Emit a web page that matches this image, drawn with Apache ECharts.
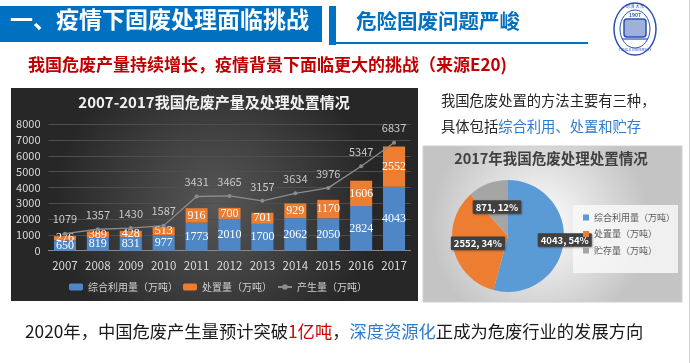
<!DOCTYPE html>
<html><head><meta charset="utf-8">
<script src="https://cdn.jsdelivr.net/npm/echarts@6/dist/echarts.min.js"></script>
<style>html,body{margin:0;padding:0;background:#fff}#c{width:692px;height:363px}</style>
</head><body><div id="c"></div>
<script>
const years = ['2007','2008','2009','2010','2011','2012','2013','2014','2015','2016','2017'];
const utilization = [650,819,831,977,1773,2010,1700,2062,2050,2824,4043];
const disposal = [276,389,428,513,916,700,701,929,1170,1606,2552];
const generation = [1079,1357,1430,1587,3431,3465,3157,3634,3976,5347,6837];
const barSeriesNames = ['综合利用量（万吨）','处置量（万吨）','产生量（万吨）'];
const pieNames = ['综合利用量（万吨）','处置量（万吨）','贮存量（万吨）'];
const pieValues = [4043,2552,871];
const yMin = 0, yMax = 8000, yStep = 1000;

const F = '"Noto Sans CJK SC","Noto Sans",sans-serif';
const chart = echarts.init(document.getElementById('c'));
const PIE_PREFIX = 'p:';

const pieData = pieNames.map((n, i) => ({ name: PIE_PREFIX + n, value: pieValues[i] }));
// the large (>180°) slice label sits at half radius along its bisector, as in the original
pieData[0].label = { offset: [26, 0] };

const option = {
  animation: false,
  textStyle: { fontFamily: F },
  graphic: [
    { type: 'line', shape: { x1: 689.5, y1: 0, x2: 689.5, y2: 363 }, style: { stroke: '#d4d4d4', lineWidth: 1 }, z: 0 },
    // header
    { type: 'rect', shape: { x: 0, y: 6, width: 322, height: 36 }, style: { fill: '#0070c0' }, z: 0 },
    { type: 'text', left: 10, top: 8, style: { text: '一、疫情下固废处理面临挑战', fill: '#fff', font: 'bold 23px ' + F }, z: 1 },
    { type: 'rect', shape: { x: 329, y: 6, width: 7, height: 39 }, style: { fill: '#0070c0' }, z: 0 },
    { type: 'rect', shape: { x: 336, y: 42, width: 252, height: 2 }, style: { fill: '#0070c0' }, z: 0 },
    { type: 'text', left: 356, top: 11, style: { text: '危险固废问题严峻', fill: '#0070c0', font: 'bold 20.5px ' + F }, z: 1 },
    // logo
    { type: 'ellipse', shape: { cx: 635, cy: 29, rx: 21, ry: 26 }, style: { fill: 'none', stroke: '#2a4fb0', lineWidth: 1.5 }, z: 1 },
    { type: 'ellipse', shape: { cx: 635, cy: 29, rx: 15, ry: 19 }, style: { fill: 'none', stroke: '#2a4fb0', lineWidth: 1 }, z: 1 },
    { type: 'text', x: 635, y: 6.5, style: { text: '同 濟 大 學', fill: '#2a4fb0', font: '4px ' + F, align: 'center', verticalAlign: 'middle' }, z: 1 },
    { type: 'text', x: 635, y: 15, style: { text: '1907', fill: '#2a4fb0', font: 'bold 5px ' + F, align: 'center', verticalAlign: 'middle' }, z: 1 },
    { type: 'rect', shape: { x: 624, y: 19, width: 22, height: 18, r: 3 }, style: { fill: 'rgba(42,79,176,0.45)', stroke: '#2a4fb0', lineWidth: 1.5 }, z: 1 },
    { type: 'line', shape: { x1: 622, y1: 39, x2: 648, y2: 39 }, style: { stroke: '#2a4fb0', lineWidth: 1.2 }, z: 1 },
    { type: 'text', x: 635, y: 50, style: { text: 'TONGJI UNIVERSITY', fill: '#2a4fb0', font: '3.5px ' + F, align: 'center', verticalAlign: 'middle' }, z: 1 },
    // red subtitle
    { type: 'text', left: 28, top: 56, style: { text: '我国危废产量持续增长，疫情背景下面临更大的挑战（来源E20)', fill: '#c00000', font: 'bold 17px ' + F }, z: 1 },
    // left chart bg
    { type: 'rect', shape: { x: 11, y: 88, width: 407, height: 213 },
      style: { fill: { type: 'radial', x: 0.5, y: 0.55, r: 0.75, colorStops: [{ offset: 0, color: '#575757' }, { offset: 1, color: '#272727' }] } }, z: 0 },
    { type: 'text', x: 214, y: 102, style: { text: '2007-2017我国危废产量及处理处置情况', fill: '#f2f2f2', font: 'bold 15px ' + F, align: 'center', verticalAlign: 'middle' }, z: 1 },
    // right texts
    { type: 'text', left: 441, top: 93, style: { text: '我国危废处置的方法主要有三种，', fill: '#262626', font: '14.3px ' + F }, z: 1 },
    { type: 'text', left: 441, top: 119, style: { text: '{k|具体包括}{b|综合利用、处置和贮存}', rich: { k: { fill: '#262626', font: '14.3px ' + F }, b: { fill: '#2e7bcf', font: '14.3px ' + F } } }, z: 1 },
    // pie box
    { type: 'rect', shape: { x: 423, y: 146, width: 259, height: 156 },
      style: { fill: { type: 'radial', x: 0.45, y: 0.5, r: 0.7, colorStops: [{ offset: 0, color: '#ffffff' }, { offset: 1, color: '#c4c4c4' }] }, stroke: '#d0d0d0', lineWidth: 1 }, z: 0 },
    { type: 'text', x: 551, y: 158, style: { text: '2017年我国危废处理处置情况', fill: '#404040', font: 'bold 14.5px ' + F, align: 'center', verticalAlign: 'middle' }, z: 1 },
    { type: 'rect', shape: { x: 573, y: 205, width: 105, height: 68 }, style: { fill: 'rgba(248,248,248,0.85)' }, z: 1 },
    // bottom text
    { type: 'text', left: 25, top: 323, style: { text: '{k|2020年，中国危废产生量预计突破}{r|1亿吨}{k|，}{b|深度资源化}{k|正成为危废行业的发展方向}',
      rich: { k: { fill: '#1a1a1a', font: '17.3px ' + F }, r: { fill: '#d00000', font: '17.3px ' + F }, b: { fill: '#2e7bcf', font: '17.3px ' + F } } }, z: 1 }
  ],
  legend: [
    { data: barSeriesNames, left: 69, top: 282, padding: 0, itemGap: 5, itemWidth: 14, itemHeight: 7,
      textStyle: { color: '#d0d0d0', fontSize: 10, fontFamily: F } },
    { data: pieNames.map(n => PIE_PREFIX + n), formatter: n => n.slice(PIE_PREFIX.length), orient: 'vertical', left: 583, top: 213, padding: 0,
      itemGap: 7.5, itemWidth: 6, itemHeight: 6, icon: 'rect', textStyle: { color: '#595959', fontSize: 9, fontFamily: F } }
  ],
  grid: { left: 48.5, right: 281.5, top: 124.3, bottom: 112.3, containLabel: false },
  xAxis: { type: 'category', data: years, axisTick: { show: false },
    axisLine: { lineStyle: { color: '#8a8a8a' } },
    axisLabel: { color: '#d9d9d9', fontSize: 11.5, margin: 9, interval: 0, fontFamily: F } },
  yAxis: { type: 'value', min: yMin, max: yMax, interval: yStep,
    axisLine: { show: false }, axisTick: { show: false },
    splitLine: { lineStyle: { color: '#4e4e4e', width: 1 } },
    axisLabel: { color: '#d9d9d9', fontSize: 11, margin: 8, fontFamily: F, formatter: v => String(v) } },
  series: [
    { name: barSeriesNames[0], type: 'bar', stack: 's', data: utilization, barWidth: '67%',
      itemStyle: { color: '#4f86c6' },
      label: { show: true, position: 'inside', color: '#fff', fontSize: 12, fontFamily: '"Liberation Serif",serif' } },
    { name: barSeriesNames[1], type: 'bar', stack: 's', data: disposal, barWidth: '67%',
      itemStyle: { color: '#ed7d31' },
      label: { show: true, position: 'inside', color: '#fff', fontSize: 12, fontFamily: '"Liberation Serif",serif' } },
    { name: barSeriesNames[2], type: 'line', data: generation, symbol: 'circle', symbolSize: 4,
      itemStyle: { color: '#8c8c8c' }, lineStyle: { color: '#8c8c8c', width: 1.3 },
      label: { show: true, position: 'top', distance: 7, color: '#c8c8c8', fontSize: 11, fontFamily: F }, z: 5 },
    { type: 'pie', center: [508, 236], radius: 56, startAngle: 90, clockwise: true,
      data: pieData,
      color: ['#5b9bd5', '#ed7d31', '#a5a5a5'],
      itemStyle: { borderWidth: 0 },
      labelLayout: { hideOverlap: false },
      label: { show: true, position: 'inside', align: 'center', verticalAlign: 'middle',
        formatter: p => p.value + ', ' + Math.round(p.percent) + '%',
        color: '#fff', fontWeight: 'bold', fontSize: 9.5, fontFamily: F, backgroundColor: '#404040',
        padding: [2, 3], borderRadius: 1, shadowColor: 'rgba(0,0,0,0.35)', shadowBlur: 2, shadowOffsetX: 1, shadowOffsetY: 1 },
      labelLine: { show: false } }
  ]
};
chart.setOption(option);
</script>
</body></html>
